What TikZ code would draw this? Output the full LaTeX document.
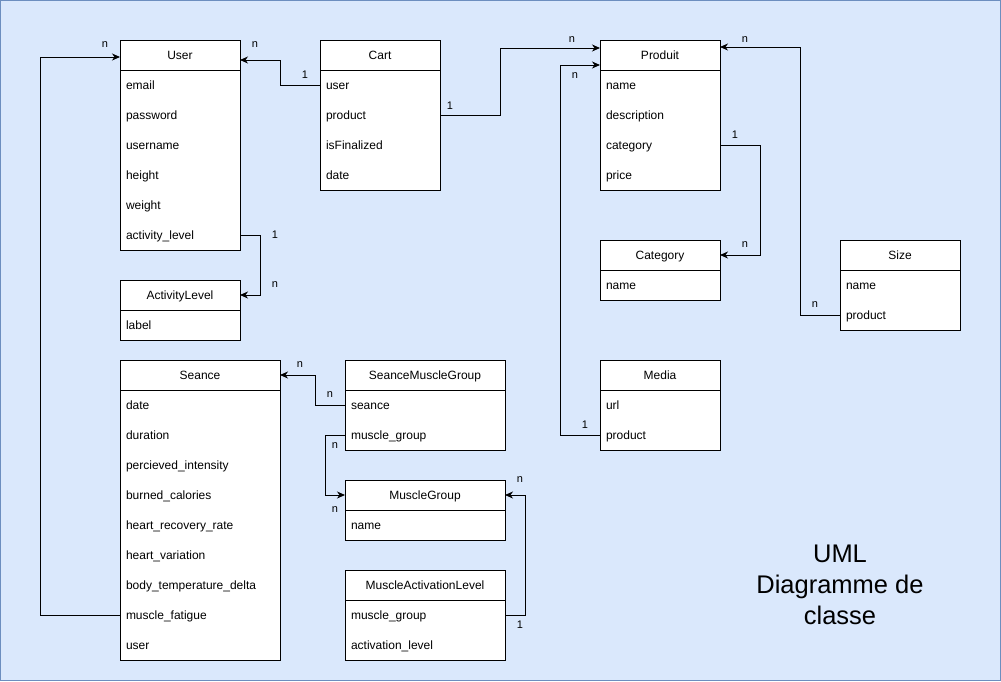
\documentclass[tikz,border=0pt]{standalone}
\usepackage{fontspec}
\setmainfont{Liberation Sans}
\usetikzlibrary{arrows.meta,positioning}

\definecolor{fondbleu}{HTML}{DAE8FC}
\definecolor{bordbleu}{HTML}{6C8EBF}

\tikzset{
  titre/.style={draw, fill=white, minimum width=#1, minimum height=30pt, inner sep=0pt, outer sep=0pt, text height=10pt, text depth=2pt, anchor=north west, font=\fontsize{12}{14}\selectfont},
  champ/.style={fill=white, text width=#1, inner xsep=6pt, inner ysep=0pt, outer sep=0pt, minimum height=30pt, text height=10pt, text depth=2pt, align=left, font=\fontsize{12}{14}\selectfont},
  lien/.style={line width=1pt, -{Stealth[length=8pt, width=7pt, inset=2.5pt]}},
  lbl/.style={inner sep=0pt, font=\fontsize{11}{13}\selectfont}
}

\begin{document}
\begin{tikzpicture}[x=1pt, y=-1pt, line width=1pt]
    \useasboundingbox (0,0) rectangle (1001,681);
    \draw[fill=fondbleu, draw=bordbleu] (0.5,0.5) rectangle (1000.5,680.5);

    % User
    \node[titre=120pt] (user) at (120,40) {User};
    \node[champ=108pt, below=0pt of user] (user-email) {email};
    \node[champ=108pt, below=0pt of user-email] (user-password) {password};
    \node[champ=108pt, below=0pt of user-password] (user-username) {username};
    \node[champ=108pt, below=0pt of user-username] (user-height) {height};
    \node[champ=108pt, below=0pt of user-height] (user-weight) {weight};
    \node[champ=108pt, below=0pt of user-weight] (user-level) {activity\_level};
    \draw (user-email.north west) rectangle (user-level.south east);

    % Cart
    \node[titre=120pt] (cart) at (320,40) {Cart};
    \node[champ=108pt, below=0pt of cart] (cart-user) {user};
    \node[champ=108pt, below=0pt of cart-user] (cart-product) {product};
    \node[champ=108pt, below=0pt of cart-product] (cart-finalized) {isFinalized};
    \node[champ=108pt, below=0pt of cart-finalized] (cart-date) {date};
    \draw (cart-user.north west) rectangle (cart-date.south east);

    % Produit
    \node[titre=120pt] (produit) at (600,40) {Produit};
    \node[champ=108pt, below=0pt of produit] (produit-name) {name};
    \node[champ=108pt, below=0pt of produit-name] (produit-description) {description};
    \node[champ=108pt, below=0pt of produit-description] (produit-category) {category};
    \node[champ=108pt, below=0pt of produit-category] (produit-price) {price};
    \draw (produit-name.north west) rectangle (produit-price.south east);

    % Category
    \node[titre=120pt] (category) at (600,240) {Category};
    \node[champ=108pt, below=0pt of category] (category-name) {name};
    \draw (category-name.north west) rectangle (category-name.south east);

    % Size
    \node[titre=120pt] (size) at (840,240) {Size};
    \node[champ=108pt, below=0pt of size] (size-name) {name};
    \node[champ=108pt, below=0pt of size-name] (size-product) {product};
    \draw (size-name.north west) rectangle (size-product.south east);

    % Media
    \node[titre=120pt] (media) at (600,360) {Media};
    \node[champ=108pt, below=0pt of media] (media-url) {url};
    \node[champ=108pt, below=0pt of media-url] (media-product) {product};
    \draw (media-url.north west) rectangle (media-product.south east);

    % ActivityLevel
    \node[titre=120pt] (activitylevel) at (120,280) {ActivityLevel};
    \node[champ=108pt, below=0pt of activitylevel] (activitylevel-label) {label};
    \draw (activitylevel-label.north west) rectangle (activitylevel-label.south east);

    % Seance
    \node[titre=160pt] (seance) at (120,360) {Seance};
    \node[champ=148pt, below=0pt of seance] (seance-date) {date};
    \node[champ=148pt, below=0pt of seance-date] (seance-duration) {duration};
    \node[champ=148pt, below=0pt of seance-duration] (seance-intensity) {percieved\_intensity};
    \node[champ=148pt, below=0pt of seance-intensity] (seance-calories) {burned\_calories};
    \node[champ=148pt, below=0pt of seance-calories] (seance-recovery) {heart\_recovery\_rate};
    \node[champ=148pt, below=0pt of seance-recovery] (seance-variation) {heart\_variation};
    \node[champ=148pt, below=0pt of seance-variation] (seance-temperature) {body\_temperature\_delta};
    \node[champ=148pt, below=0pt of seance-temperature] (seance-fatigue) {muscle\_fatigue};
    \node[champ=148pt, below=0pt of seance-fatigue] (seance-user) {user};
    \draw (seance-date.north west) rectangle (seance-user.south east);

    % SeanceMuscleGroup
    \node[titre=160pt] (smg) at (345,360) {SeanceMuscleGroup};
    \node[champ=148pt, below=0pt of smg] (smg-seance) {seance};
    \node[champ=148pt, below=0pt of smg-seance] (smg-group) {muscle\_group};
    \draw (smg-seance.north west) rectangle (smg-group.south east);

    % MuscleGroup
    \node[titre=160pt] (musclegroup) at (345,480) {MuscleGroup};
    \node[champ=148pt, below=0pt of musclegroup] (musclegroup-name) {name};
    \draw (musclegroup-name.north west) rectangle (musclegroup-name.south east);

    % MuscleActivationLevel
    \node[titre=160pt] (mal) at (345,570) {MuscleActivationLevel};
    \node[champ=148pt, below=0pt of mal] (mal-group) {muscle\_group};
    \node[champ=148pt, below=0pt of mal-group] (mal-level) {activation\_level};
    \draw (mal-group.north west) rectangle (mal-level.south east);

    % Liens
    \draw[lien] (seance-fatigue.west) -- ++(-80,0) |- ([yshift=-2pt]user.west);
    \draw[lien] (cart-user.west) -- ++(-40,0) |- ([yshift=-5pt]user.east);
    \draw[lien] (user-level.east) -- ++(20,0) |- (activitylevel.east);
    \draw[lien] (cart-product.east) -- ++(60,0) |- ([yshift=7pt]produit.west);
    \draw[lien] (media-product.west) -- ++(-40,0) |- ([yshift=-10pt]produit.west);
    \draw[lien] (produit-category.east) -- ++(40,0) |- (category.east);
    \draw[lien] (size-product.west) -- ++(-40,0) |- ([yshift=8pt]produit.east);
    \draw[lien] (smg-seance.west) -- ++(-30,0) |- (seance.east);
    \draw[lien] (smg-group.west) -- ++(-20,0) |- (musclegroup.west);
    \draw[lien] (mal-group.east) -- ++(20,0) |- (musclegroup.east);

    % Cardinalites
    \node[lbl] (c1) at (105,45) {n};
    \node[lbl] (c2) at (305,75) {1};
    \node[lbl] (c3) at (255,45) {n};
    \node[lbl] (c4) at (275,235) {1};
    \node[lbl] (c5) at (275,285) {n};
    \node[lbl] (c6) at (450,106) {1};
    \node[lbl] (c7) at (572,40) {n};
    \node[lbl] (c8) at (585,425) {1};
    \node[lbl] (c9) at (575,76) {n};
    \node[lbl] (c10) at (735,135) {1};
    \node[lbl] (c11) at (745,245) {n};
    \node[lbl] (c12) at (815,305) {n};
    \node[lbl] (c13) at (745,40) {n};
    \node[lbl] (c14) at (300,365) {n};
    \node[lbl] (c15) at (330,395) {n};
    \node[lbl] (c16) at (335,446) {n};
    \node[lbl] (c17) at (335,510) {n};
    \node[lbl] (c18) at (520,480) {n};
    \node[lbl] (c19) at (520,625) {1};

    % Titre
    \node[align=center, font=\fontsize{25.5}{31}\selectfont] (titre) at (840,585) {UML\\Diagramme de\\classe};
\end{tikzpicture}
\end{document}
